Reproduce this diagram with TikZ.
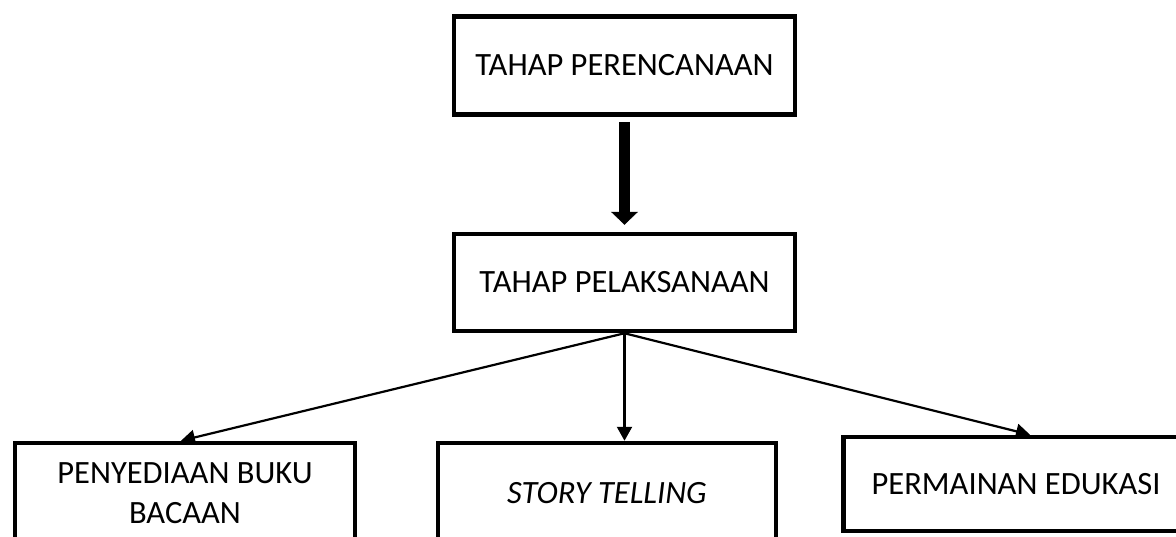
\documentclass[tikz,border=0pt]{standalone}
\usepackage{fontspec}
\setmainfont{Carlito}
\usepackage{tikz}
\usetikzlibrary{arrows.meta,positioning}

\begin{document}
\begin{tikzpicture}[
  x=1pt,y=-1pt,
  font=\fontsize{32.5}{40}\selectfont,
  box/.style={draw,line width=4.5pt,align=center,inner sep=0pt,minimum width=341pt,minimum height=98pt},
  arr/.style={-{Triangle[length=14pt,width=15pt]},line width=2.2pt},
  bigarr/.style={-{Triangle[length=13pt,width=27pt,line width=0.5pt]},line width=11pt}
]
\useasboundingbox (0,0) rectangle (1176,536);
\node[box] (plan) at (624.5,65.5) {TAHAP PERENCANAAN};
\node[box,minimum height=97pt] (exec) at (624.5,282.5) {TAHAP PELAKSANAAN};
\node[box,minimum width=340pt,minimum height=100pt] (book) at (185,493) {PENYEDIAAN BUKU\\BACAAN};
\node[box,minimum width=338pt,minimum height=100pt] (story) at (607,493) {\itshape STORY TELLING};
\node[box,minimum width=345pt,minimum height=94pt] (game) at (1016,484) {PERMAINAN EDUKASI};
\draw[bigarr] ([yshift=-5pt]plan.south) -- ([yshift=7pt]exec.north);
\draw[arr] (exec.south) -- ([xshift=-4pt]book.north);
\draw[arr] (exec.south) -- (exec.south |- story.north);
\draw[arr] (exec.south) -- ([xshift=14pt]game.north);
\end{tikzpicture}
\end{document}
